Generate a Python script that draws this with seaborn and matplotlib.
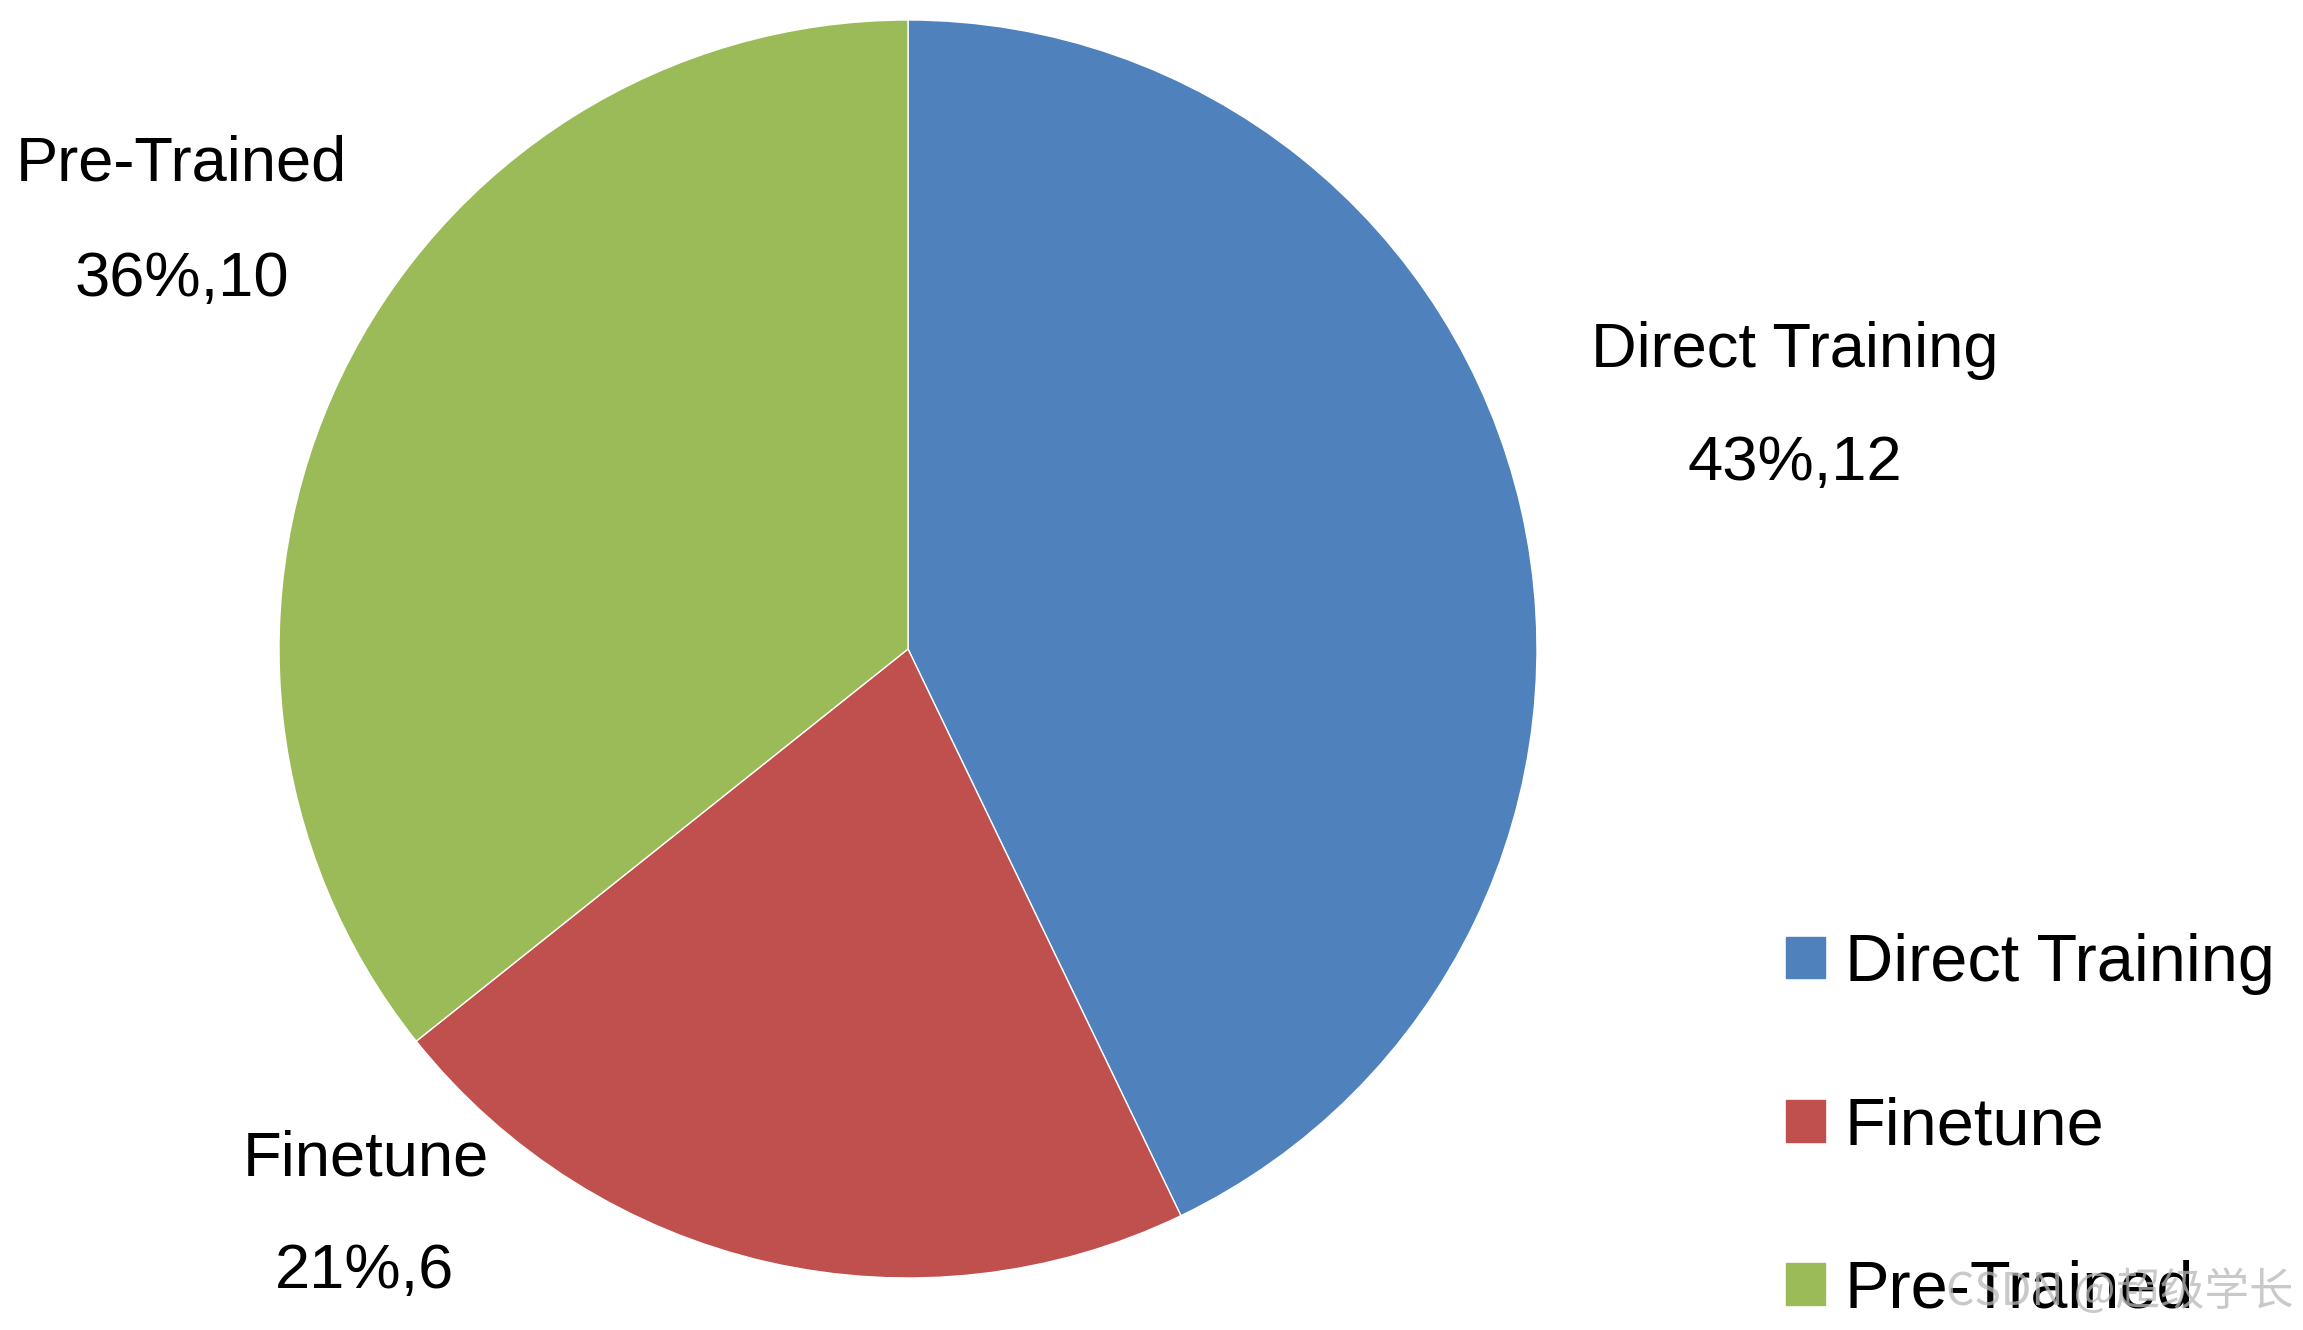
import matplotlib
matplotlib.use("Agg")
import matplotlib.pyplot as plt
import seaborn as sns
from matplotlib.patches import Patch

categories = ["Direct Training", "Finetune", "Pre-Trained"]
counts = [12, 6, 10]
pct_labels = ["43%,12", "21%,6", "36%,10"]

sns.set_theme(style="white")
plt.rcParams['font.family'] = ['Liberation Sans', 'DejaVu Sans']

colors = ["#4F81BD", "#C0504D", "#9BBB59"]

W, H = 2303, 1330
fig = plt.figure(figsize=(W / 100, H / 100), dpi=100)
ax = fig.add_axes([0, 0, 1, 1])

cx, cy, r = 908, H - 649, 629
wedges, _ = ax.pie(counts, colors=colors, startangle=90, counterclock=False,
                   center=(cx, cy), radius=r, frame=False,
                   wedgeprops=dict(edgecolor="white", linewidth=1.0))
ax.set_xlim(0, W)
ax.set_ylim(0, H)
ax.set_aspect("equal")
ax.axis("off")

label_pos = [((1795, 350), (1795, 464)),
             ((366, 1159), (364, 1272)),
             ((181, 164), (182, 279))]
for cat, pl, (p1, p2) in zip(categories, pct_labels, label_pos):
    ax.text(p1[0], H - p1[1], cat, ha="center", va="center", fontsize=45.5, color="black")
    ax.text(p2[0], H - p2[1], pl, ha="center", va="center", fontsize=45.5, color="black")

handles = [Patch(facecolor=c, edgecolor=c) for c in colors]
leg = fig.legend(handles, categories, loc="upper left",
                 bbox_to_anchor=(1786 / W, 1 - 933 / H),
                 frameon=False, fontsize=48, labelspacing=1.52,
                 handlelength=0.58, handleheight=0.58, handletextpad=0.3,
                 borderpad=0, borderaxespad=0, labelcolor="black")

fig.text(2294 / W, 1 - 1292 / H, "CSDN @超级学长", ha="right", va="center",
         fontsize=32, color="#b8b8b8", alpha=0.75, zorder=10,
         family=['Noto Sans CJK SC', 'DejaVu Sans'])

fig.savefig("out.png", dpi=100, facecolor="white")
